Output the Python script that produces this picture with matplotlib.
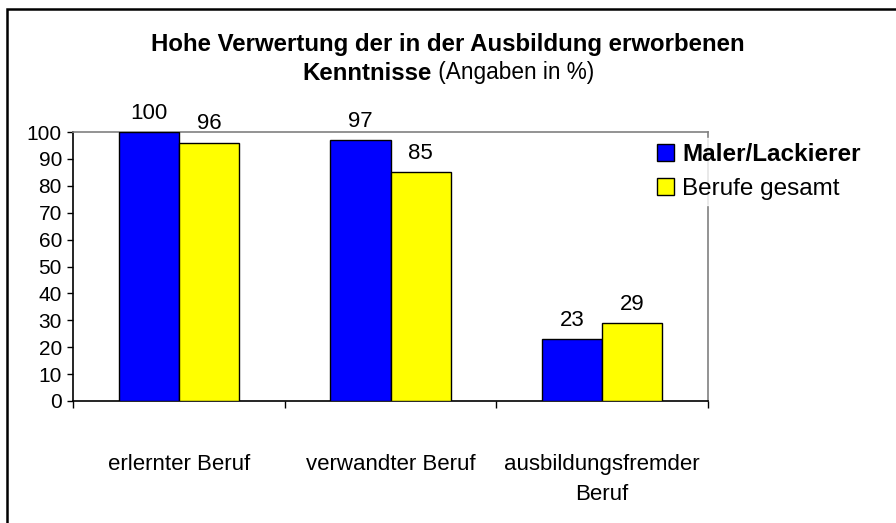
import matplotlib
matplotlib.use("Agg")
import matplotlib.pyplot as plt
import matplotlib.patches as mpatches
import numpy as np

plt.rcParams['font.family'] = ['Liberation Sans', 'DejaVu Sans']

categories = ["erlernter Beruf", "verwandter Beruf", "ausbildungsfremder\nBeruf"]
series_names = ["Maler/Lackierer", "Berufe gesamt"]
maler = [100, 97, 23]
gesamt = [96, 85, 29]
yticks = [0, 10, 20, 30, 40, 50, 60, 70, 80, 90, 100]
colors = ["#0000FF", "#FFFF00"]

W, H = 896, 523
fig = plt.figure(figsize=(W / 100, H / 100), dpi=100)

# outer border (top + left visible)
fig.patches.append(mpatches.Rectangle((7 / W, -0.1), 1.2, (H - 9) / H + 0.1,
                                      transform=fig.transFigure, fill=False,
                                      edgecolor="black", linewidth=1.8))

ax = fig.add_axes([73 / W, (H - 401) / H, (708 - 73) / W, (401 - 132) / H])

x = np.arange(len(categories))
bw = 0.284
b1 = ax.bar(x - bw / 2, maler, bw, color=colors[0], edgecolor="black", linewidth=1.0, zorder=3)
b2 = ax.bar(x + bw / 2, gesamt, bw, color=colors[1], edgecolor="black", linewidth=1.0, zorder=3)

for bars, vals in ((b1, maler), (b2, gesamt)):
    for b, v in zip(bars, vals):
        ax.annotate(str(v), (b.get_x() + b.get_width() / 2, v), xytext=(0, 6),
                    textcoords="offset points", ha="center", va="bottom", fontsize=16)

ax.set_xlim(-0.5, len(categories) - 0.5)
ax.set_ylim(0, 100)
ax.set_yticks(yticks)
ax.set_yticklabels([str(t) for t in yticks], fontsize=15)
ax.tick_params(axis="y", direction="out", length=4, width=1, pad=4, color="black")

ax.set_xticks(np.arange(-0.5, len(categories)), minor=False)
ax.set_xticklabels([""] * (len(categories) + 1))
ax.tick_params(axis="x", which="major", direction="out", length=5, width=1)
ax.set_xticks(x, minor=True)
ax.set_xticklabels(categories, minor=True, fontsize=16, linespacing=1.55)
ax.tick_params(axis="x", which="minor", length=0, pad=38)

for s in ("left", "bottom"):
    ax.spines[s].set_color("black")
    ax.spines[s].set_linewidth(1.2)
for s in ("top", "right"):
    ax.spines[s].set_color("#808080")
    ax.spines[s].set_linewidth(1.2)

handles = [mpatches.Patch(facecolor=c, edgecolor="black", linewidth=1.0) for c in colors]
leg = fig.legend(handles, series_names, loc="upper left", bbox_to_anchor=(652 / W, 1 - 138 / H),
                 frameon=True, fontsize=17.5, handlelength=0.7, handleheight=0.7,
                 handletextpad=0.35, labelspacing=0.5, borderpad=0.2, borderaxespad=0)
leg.get_frame().set_facecolor("white")
leg.get_frame().set_edgecolor("white")
leg.get_texts()[0].set_fontweight("bold")

# title: line 1 bold, line 2 mixed
fig.text(448 / W, 1 - 44 / H, "Hohe Verwertung der in der Ausbildung erworbenen",
         ha="center", va="center", fontsize=17.3, fontweight="bold")
renderer = fig.canvas.get_renderer()
t_a = fig.text(0, 1 - 73 / H, "Kenntnisse", ha="left", va="center", fontsize=17.3, fontweight="bold")
t_b = fig.text(0, 1 - 73 / H, " (Angaben in %)", ha="left", va="center", fontsize=16.3)
wa = t_a.get_window_extent(renderer).width
wb = t_b.get_window_extent(renderer).width
start = (448 - (wa + wb) / 2) / W
t_a.set_x(start)
t_b.set_x(start + wa / W)

fig.savefig("out.png", dpi=100)
